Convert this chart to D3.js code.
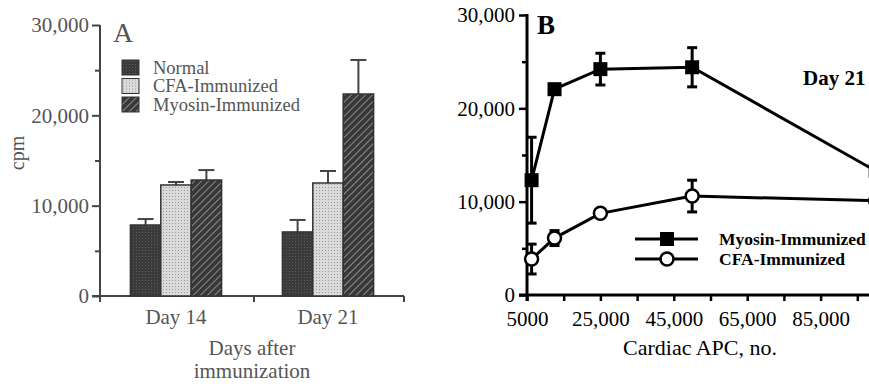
<!DOCTYPE html>
<html>
<head>
<meta charset="utf-8">
<script src="https://cdn.jsdelivr.net/npm/d3@7"></script>
<style>
  body { margin: 0; background: #fff; }
  svg text { font-family: 'Liberation Serif', 'DejaVu Serif', 'Times New Roman', Times, serif; }
</style>
</head>
<body>
<svg id="fig" width="869" height="386"></svg>
<script>
// ---- panel A data ----
var days = ["Day 14", "Day 21"];
var groups = ["Normal", "CFA-Immunized", "Myosin-Immunized"];
var normalMean = [7860, 7090];
var normalErr = [660, 1330];
var cfaMean = [12290, 12510];
var cfaErr = [330, 1330];
var myosinMean = [12840, 22360];
var myosinErr = [1100, 3770];
var yTicksA = [0, 10000, 20000, 30000];

// ---- panel B data ----
var apcCounts = [6250, 12500, 25000, 50000, 100000];
var myosinCpm = [12300, 22050, 24200, 24400, 13300];
var myosinSem = [4600, 0, 1700, 2100, 0];
var cfaCpm = [3850, 6100, 8750, 10600, 10100];
var cfaSem = [1600, 800, 0, 1700, 0];
var xTicksB = [5000, 25000, 45000, 65000, 85000];
var yTicksB = [0, 10000, 20000, 30000];

var svg = d3.select("#fig");
var serif = "'Liberation Serif', 'DejaVu Serif', 'Times New Roman', Times, serif";
var greyText = "#555";
var greyLine = "#444";

// patterns for the scanned bar fills
var defs = svg.append("defs");
var pNormal = defs.append("pattern").attr("id", "pNormal")
    .attr("width", 3).attr("height", 3).attr("patternUnits", "userSpaceOnUse");
pNormal.append("rect").attr("width", 3).attr("height", 3).attr("fill", "#3a3a3a");
pNormal.append("rect").attr("x", 1).attr("y", 1).attr("width", 1).attr("height", 1).attr("fill", "#5a5a5a");

var pCfa = defs.append("pattern").attr("id", "pCfa")
    .attr("width", 3).attr("height", 3).attr("patternUnits", "userSpaceOnUse");
pCfa.append("rect").attr("width", 3).attr("height", 3).attr("fill", "#dadada");
pCfa.append("rect").attr("x", 1).attr("y", 1).attr("width", 1).attr("height", 1).attr("fill", "#999");

var pMyo = defs.append("pattern").attr("id", "pMyo")
    .attr("width", 5).attr("height", 5).attr("patternUnits", "userSpaceOnUse")
    .attr("patternTransform", "rotate(45)");
pMyo.append("rect").attr("width", 5).attr("height", 5).attr("fill", "#383838");
pMyo.append("rect").attr("x", 0).attr("width", 1).attr("height", 5).attr("fill", "#8a8a8a");

var fills = ["url(#pNormal)", "url(#pCfa)", "url(#pMyo)"];

// =================== Panel A ===================
var yA = d3.scaleLinear().domain([0, 30000]).range([296, 25]);
var xA = d3.scaleBand().domain(days).range([100, 404]).paddingInner(0.4).paddingOuter(0.2);
var xInner = d3.scaleBand().domain(groups).range([0, xA.bandwidth()]);

var panelA = svg.append("g");

var yAxisA = d3.axisLeft(yA).tickValues(d3.range(0, 30001, 5000)).tickSize(8)
    .tickFormat(function(d) { return yTicksA.indexOf(d) >= 0 ? d3.format(",")(d) : ""; })
    .tickPadding(3);
var gYA = panelA.append("g").attr("transform", "translate(100,0)").call(yAxisA)
    .attr("font-family", serif);
gYA.select(".domain").remove();
gYA.selectAll(".tick line").attr("stroke", greyLine).attr("stroke-width", 2)
    .attr("x2", function(d) { return yTicksA.indexOf(d) >= 0 ? -8 : -5; });
gYA.selectAll(".tick text").attr("fill", greyText).attr("font-size", 21);
panelA.append("line").attr("x1", 100).attr("x2", 100).attr("y1", 25).attr("y2", 302)
    .attr("stroke", greyLine).attr("stroke-width", 2);
panelA.append("line").attr("x1", 92).attr("x2", 404).attr("y1", 296).attr("y2", 296)
    .attr("stroke", greyLine).attr("stroke-width", 2);
// x ticks at group boundary and right end
[254, 404].forEach(function(x) {
  panelA.append("line").attr("x1", x).attr("x2", x).attr("y1", 296).attr("y2", 302)
      .attr("stroke", greyLine).attr("stroke-width", 2);
});

var seriesA = [
  {name: groups[0], mean: normalMean, err: normalErr},
  {name: groups[1], mean: cfaMean, err: cfaErr},
  {name: groups[2], mean: myosinMean, err: myosinErr}
];
var barsData = [];
seriesA.forEach(function(s, si) {
  days.forEach(function(day, di) {
    barsData.push({day: day, group: s.name, gi: si, v: s.mean[di], e: s.err[di]});
  });
});

var bars = panelA.selectAll("g.bar").data(barsData).enter().append("g").attr("class", "bar");
// error bars first (only upper half visible)
bars.append("line")
    .attr("x1", function(d) { return xA(d.day) + xInner(d.group) + xInner.bandwidth() / 2; })
    .attr("x2", function(d) { return xA(d.day) + xInner(d.group) + xInner.bandwidth() / 2; })
    .attr("y1", function(d) { return yA(d.v); })
    .attr("y2", function(d) { return yA(d.v + d.e); })
    .attr("stroke", greyLine).attr("stroke-width", 2);
bars.append("line")
    .attr("x1", function(d) { return xA(d.day) + xInner(d.group) + xInner.bandwidth() / 2 - 8; })
    .attr("x2", function(d) { return xA(d.day) + xInner(d.group) + xInner.bandwidth() / 2 + 8; })
    .attr("y1", function(d) { return yA(d.v + d.e); })
    .attr("y2", function(d) { return yA(d.v + d.e); })
    .attr("stroke", greyLine).attr("stroke-width", 2);
bars.append("rect")
    .attr("x", function(d) { return xA(d.day) + xInner(d.group); })
    .attr("y", function(d) { return yA(d.v); })
    .attr("width", xInner.bandwidth())
    .attr("height", function(d) { return yA(0) - yA(d.v); })
    .attr("fill", function(d) { return fills[d.gi]; })
    .attr("stroke", "#333").attr("stroke-width", 1.5);

// x category labels
panelA.selectAll("text.day").data(days).enter().append("text").attr("class", "day")
    .attr("x", function(d) { return xA(d) + xA.bandwidth() / 2; })
    .attr("y", 324)
    .attr("text-anchor", "middle").attr("fill", greyText).attr("font-size", 21)
    .text(function(d) { return d; });
panelA.append("text").attr("x", 252).attr("y", 355).attr("text-anchor", "middle")
    .attr("fill", greyText).attr("font-size", 21).text("Days after");
panelA.append("text").attr("x", 252).attr("y", 378).attr("text-anchor", "middle")
    .attr("fill", greyText).attr("font-size", 21).text("immunization");
panelA.append("text").attr("transform", "translate(24,153) rotate(-90)")
    .attr("text-anchor", "middle").attr("fill", greyText).attr("font-size", 20).text("cpm");
panelA.append("text").attr("x", 113).attr("y", 42).attr("fill", greyText)
    .attr("font-size", 28).text("A");

// legend A
var legA = panelA.selectAll("g.legA").data(groups).enter().append("g").attr("class", "legA")
    .attr("transform", function(d, i) { return "translate(122," + (60 + i * 18.5) + ")"; });
legA.append("rect").attr("width", 17).attr("height", 15)
    .attr("fill", function(d, i) { return fills[i]; }).attr("stroke", "#333").attr("stroke-width", 1);
legA.append("text").attr("x", 31).attr("y", 13.5).attr("fill", greyText)
    .attr("font-size", 18.5).text(function(d) { return d; });

// =================== Panel B ===================
var xB = d3.scaleLinear().domain([5000, 105000]).range([527, 894]);
var yB = d3.scaleLinear().domain([0, 30000]).range([295, 15]);
var panelB = svg.append("g");

var yAxisB = d3.axisLeft(yB).tickValues(d3.range(0, 30001, 5000)).tickSize(8).tickPadding(4)
    .tickFormat(function(d) { return yTicksB.indexOf(d) >= 0 ? d3.format(",")(d) : ""; });
var gYB = panelB.append("g").attr("transform", "translate(527,0)").call(yAxisB)
    .attr("font-family", serif);
gYB.select(".domain").remove();
gYB.selectAll(".tick line").attr("stroke", "#000").attr("stroke-width", 2.5)
    .attr("x2", function(d) { return yTicksB.indexOf(d) >= 0 ? -8 : -5; });
gYB.selectAll(".tick text").attr("fill", "#000").attr("font-size", 21);

var xAxisB = d3.axisBottom(xB).tickValues(d3.range(5000, 105001, 10000)).tickSize(6).tickPadding(10)
    .tickFormat(function(d) {
      if (xTicksB.indexOf(d) < 0) return "";
      return d === 5000 ? "5000" : d3.format(",")(d);
    });
var gXB = panelB.append("g").attr("transform", "translate(0,295)").call(xAxisB)
    .attr("font-family", serif);
gXB.select(".domain").remove();
gXB.selectAll(".tick line").attr("stroke", "#000").attr("stroke-width", 2.5);
gXB.selectAll(".tick text").attr("fill", "#000").attr("font-size", 21);

panelB.append("line").attr("x1", 527).attr("x2", 527).attr("y1", 14).attr("y2", 301)
    .attr("stroke", "#000").attr("stroke-width", 3);
panelB.append("line").attr("x1", 519).attr("x2", 869).attr("y1", 295).attr("y2", 295)
    .attr("stroke", "#000").attr("stroke-width", 3);

var seriesB = [
  {name: "Myosin-Immunized", y: myosinCpm, sem: myosinSem, shape: "square"},
  {name: "CFA-Immunized", y: cfaCpm, sem: cfaSem, shape: "circle"}
];
var line = d3.line().x(function(d) { return xB(d.x); }).y(function(d) { return yB(d.y); });

seriesB.forEach(function(s) {
  var pts = apcCounts.map(function(x, i) { return {x: x, y: s.y[i], e: s.sem[i]}; });
  var g = panelB.append("g");
  g.append("path").datum(pts).attr("d", line).attr("fill", "none")
      .attr("stroke", "#000").attr("stroke-width", 3);
  var eb = g.selectAll("g.err").data(pts.filter(function(d) { return d.e > 0; }))
      .enter().append("g").attr("class", "err");
  eb.append("line")
      .attr("x1", function(d) { return xB(d.x); }).attr("x2", function(d) { return xB(d.x); })
      .attr("y1", function(d) { return yB(d.y - d.e); }).attr("y2", function(d) { return yB(d.y + d.e); })
      .attr("stroke", "#000").attr("stroke-width", 3);
  [-1, 1].forEach(function(sgn) {
    eb.append("line")
        .attr("x1", function(d) { return xB(d.x) - 5; }).attr("x2", function(d) { return xB(d.x) + 5; })
        .attr("y1", function(d) { return yB(d.y + sgn * d.e); })
        .attr("y2", function(d) { return yB(d.y + sgn * d.e); })
        .attr("stroke", "#000").attr("stroke-width", 3);
  });
  if (s.shape === "square") {
    g.selectAll("rect").data(pts).enter().append("rect")
        .attr("x", function(d) { return xB(d.x) - 7; }).attr("y", function(d) { return yB(d.y) - 7; })
        .attr("width", 14).attr("height", 14).attr("fill", "#000");
  } else {
    g.selectAll("circle").data(pts).enter().append("circle")
        .attr("cx", function(d) { return xB(d.x); }).attr("cy", function(d) { return yB(d.y); })
        .attr("r", 6.5).attr("fill", "#fff").attr("stroke", "#000").attr("stroke-width", 2.5);
  }
});

panelB.append("text").attr("x", 700).attr("y", 355).attr("text-anchor", "middle")
    .attr("font-size", 22).text("Cardiac APC, no.");
panelB.append("text").attr("x", 537).attr("y", 34).attr("font-size", 27)
    .attr("font-weight", "bold").text("B");
panelB.append("text").attr("x", 803).attr("y", 85).attr("font-size", 21)
    .attr("font-weight", "bold").text("Day 21");

// legend B
var legB = panelB.selectAll("g.legB").data(seriesB).enter().append("g").attr("class", "legB")
    .attr("transform", function(d, i) { return "translate(635," + (239 + i * 20) + ")"; });
legB.append("line").attr("x1", 0).attr("x2", 63).attr("stroke", "#000").attr("stroke-width", 3);
legB.each(function(d) {
  var g = d3.select(this);
  if (d.shape === "square") {
    g.append("rect").attr("x", 25).attr("y", -7).attr("width", 14).attr("height", 14).attr("fill", "#000");
  } else {
    g.append("circle").attr("cx", 32).attr("r", 6.5).attr("fill", "#fff")
        .attr("stroke", "#000").attr("stroke-width", 2.5);
  }
});
legB.append("text").attr("x", 84).attr("y", 6).attr("font-size", 17.5)
    .attr("font-weight", "bold").text(function(d) { return d.name; });
</script>
</body>
</html>
